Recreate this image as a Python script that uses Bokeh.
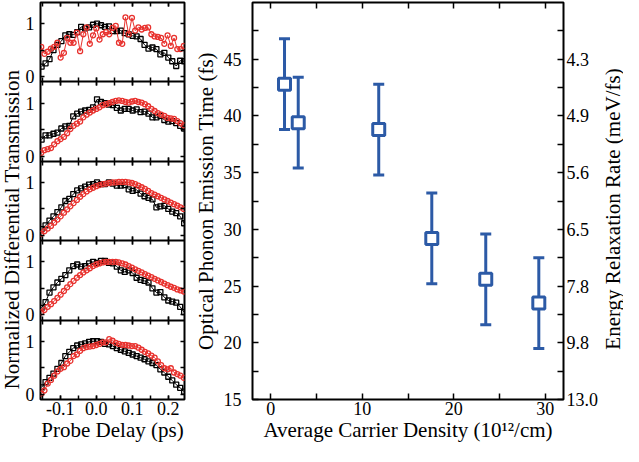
import math
from bokeh.plotting import figure
from bokeh.layouts import row
from bokeh.models import (Range1d, LinearAxis, SingleIntervalTicker, FixedTicker,
                          NumeralTickFormatter, Label, ColumnDataSource, Whisker, TeeHead)
from bokeh.embed import file_html
from bokeh.resources import INLINE

# ---------------- data ----------------
black_delay = [-0.152, -0.141, -0.130, -0.119, -0.108, -0.097, -0.086, -0.075, -0.064, -0.053,
               -0.042, -0.031, -0.020, -0.009, 0.002, 0.013, 0.024, 0.035, 0.046, 0.057,
               0.068, 0.079, 0.090, 0.101, 0.112, 0.123, 0.134, 0.145, 0.156, 0.167,
               0.178, 0.189, 0.200, 0.211, 0.222, 0.233, 0.244]
red_delay = [-0.153, -0.144, -0.135, -0.126, -0.117, -0.108, -0.099, -0.090, -0.081, -0.072,
             -0.063, -0.054, -0.045, -0.036, -0.027, -0.018, -0.009, 0.000, 0.009, 0.018,
             0.027, 0.036, 0.045, 0.054, 0.063, 0.072, 0.081, 0.090, 0.099, 0.108,
             0.117, 0.126, 0.135, 0.144, 0.153, 0.162, 0.171, 0.180, 0.189, 0.198,
             0.207, 0.216, 0.225, 0.234, 0.243]

black_1 = [.19, .25, .33, .50, .60, .67, .78, .80, .79, .84, .94, .91, .93, .98, 1.00, .97, .94, .95, .86, .86,
           .87, .82, .80, .77, .76, .71, .60, .53, .55, .52, .42, .45, .36, .29, .20, .30, .29]
red_1 = [.56, .43, .47, .53, .56, .64, .36, .45, .73, .64, .64, .83, .48, .80, .93, .62, .78, .91, .70, .80,
         .84, .80, .92, .96, .64, .62, 1.12, .80, 1.11, .87, .93, .89, .92, .93, .80, .76, .75, .73, .62, .78,
         .58, .73, .52, .52, .58]
black_2 = [.31, .39, .39, .42, .44, .52, .56, .57, .75, .80, .84, .86, .87, .92, 1.07, 1.02, 1.00, .97, .96, .91,
           .86, .89, .89, .86, .88, .83, .84, .80, .73, .73, .76, .68, .65, .66, .62, .57, .52]
red_2 = [.06, .11, .13, .15, .22, .28, .32, .36, .43, .51, .57, .61, .65, .73, .78, .82, .86, .89, .92, .96,
         .98, 1.00, 1.02, 1.04, 1.05, 1.04, 1.02, 1.01, 1.03, 1.04, 1.02, 1.01, .98, .94, .89, .85, .81, .78, .76, .72,
         .71, .70, .66, .62, .58]
black_3 = [.12, .19, .28, .36, .44, .53, .65, .69, .78, .85, .89, .92, .96, .97, 1.00, .97, .97, 1.00, .98, .94,
           .94, .95, .87, .84, .86, .79, .74, .71, .68, .53, .55, .56, .50, .45, .42, .36, .23]
red_3 = [.03, .08, .13, .18, .24, .30, .36, .43, .49, .55, .61, .67, .73, .78, .83, .87, .90, .93, .95, .97,
         .98, .99, 1.00, 1.00, 1.01, 1.01, 1.01, 1.00, .99, .97, .94, .91, .88, .84, .80, .77, .74, .71, .68, .65,
         .62, .59, .56, .53, .50]
black_4 = [.13, .24, .42, .52, .61, .68, .75, .84, .92, .95, .91, .92, .97, 1.00, .98, 1.02, 1.02, .98, .97, .91,
           .84, .81, .84, .79, .70, .66, .64, .61, .50, .42, .43, .33, .27, .25, .23, .15, .05]
red_4 = [.05, .09, .15, .20, .26, .32, .38, .45, .52, .58, .64, .70, .75, .80, .84, .88, .92, .95, .97, .99,
         1.00, 1.00, 1.00, 1.00, .99, .97, .95, .92, .89, .86, .83, .80, .77, .74, .71, .68, .65, .62, .59, .56,
         .53, .51, .48, .46, .44]
black_5 = [.13, .23, .31, .39, .48, .59, .72, .80, .87, .92, .94, .96, .99, 1.00, 1.00, .99, .95, .94, .91, .87,
           .84, .81, .78, .75, .72, .69, .66, .62, .59, .55, .47, .41, .33, .26, .18, .12, .05]
red_5 = [.01, .07, .20, .27, .35, .43, .48, .51, .58, .63, .72, .75, .82, .87, .89, .90, .91, .93, .95, .98,
         .98, 1.04, 1.01, .97, .95, .93, .93, .92, .91, .91, .88, .84, .80, .77, .73, .69, .62, .55, .49, .47,
         .49, .41, .38, .35, .31]

norm_ticks = [0, 1]
norm_labels = ["0", "1"]
norm_minor = [0.5]

density = [1.5, 3.0, 11.8, 17.6, 23.5, 29.3]           # 10^12 / cm
emission_time = [42.8, 39.4, 38.8, 29.2, 25.6, 23.5]   # fs
time_err = [4.0, 4.0, 4.0, 4.0, 4.0, 4.0]

time_ticks = [15, 20, 25, 30, 35, 40, 45]
time_minor = [17.5, 22.5, 27.5, 32.5, 37.5, 42.5, 47.5]
energy_labels = ["13.0", "9.8", "7.8", "6.5", "5.6", "4.9", "4.3"]
density_ticks = [0, 10, 20, 30]
density_minor = [5, 15, 25]

# ---------------- style / layout ----------------
FONT = "Liberation Serif"
RED = "#e8322e"
BLUE = "#2c5aa6"
TICK_FS = "18px"
LABEL_FS = "21px"
PAGE_H = 446
TOP_B = 2          # border above frames
BOT_B = 47         # border below frames (tick labels + axis label)
LAB_W = 22         # width of each vertical-title strip
COL_W = 168        # width of the left (stacked panels) figure
RIGHT_W = 411
R_LEFT, R_RIGHT = 58, 35


def style_axis(ax, tick_len, standoff):
    ax.major_tick_in = tick_len
    ax.major_tick_out = 0
    ax.minor_tick_in = tick_len
    ax.minor_tick_out = 0
    ax.major_tick_line_width = 1.5
    ax.minor_tick_line_width = 1.5
    ax.major_tick_line_color = "black"
    ax.minor_tick_line_color = "black"
    ax.axis_line_color = None
    ax.major_label_standoff = standoff
    ax.major_label_text_font = FONT
    ax.major_label_text_font_size = TICK_FS
    ax.major_label_text_color = "black"
    ax.major_label_text_line_height = 1.0
    ax.axis_label_text_font = FONT
    ax.axis_label_text_font_size = LABEL_FS
    ax.axis_label_text_font_style = "normal"
    ax.axis_label_text_color = "black"
    ax.axis_label_text_line_height = 1.0
    ax.axis_label_standoff = 0


def hidden_axis(ticker, loc, tick_len=4, **kw):
    ax = LinearAxis(ticker=ticker, fixed_location=loc, **kw)
    style_axis(ax, tick_len, 0)
    ax.major_label_text_color = None
    return ax


def strip(text, center_from_top):
    s = figure(width=LAB_W, height=PAGE_H, x_range=Range1d(0, 1), y_range=Range1d(0, 1),
               min_border_left=0, min_border_right=0, min_border_top=TOP_B, min_border_bottom=BOT_B,
               x_axis_location=None, y_axis_location=None, output_backend="svg", toolbar_location=None)
    s.grid.grid_line_color = None
    s.outline_line_color = None
    # screen units are measured from the frame's bottom-left corner
    s.add_layout(Label(x=LAB_W / 2, y=(PAGE_H - BOT_B) - center_from_top, x_units="screen", y_units="screen",
                       text=text, angle=math.pi / 2, text_align="center", text_baseline="middle",
                       text_font=FONT, text_font_size=LABEL_FS, text_color="black"))
    return s


# ---------------- left: five stacked panels in one figure ----------------
X0, X1 = -0.155, 0.245
Y0, Y1 = -0.1, 1.4
SPAN = 1.5
series = [(black_1, red_1), (black_2, red_2), (black_3, red_3), (black_4, red_4), (black_5, red_5)]
NB = len(series)

pleft = figure(width=COL_W, height=PAGE_H, x_range=Range1d(X0, X1),
               y_range=Range1d(Y0 - (NB - 1) * SPAN, Y1),
               min_border_left=16, min_border_right=6, min_border_top=TOP_B, min_border_bottom=BOT_B,
               x_axis_location=None, y_axis_location=None, output_backend="svg", toolbar_location=None)
pleft.grid.grid_line_color = None
pleft.outline_line_color = "black"
pleft.outline_line_width = 2
pleft.extra_y_ranges = {f"band{k}": Range1d(Y0 - (NB - 1 - k) * SPAN, Y1 + k * SPAN) for k in range(NB)}

left_major, left_minor, left_over = [], [], {}
for k in range(NB):
    for v, lab in zip(norm_ticks, norm_labels):
        t = v - k * SPAN
        left_major.append(t)
        left_over[t] = lab
    for v in norm_minor:
        left_minor.append(v - k * SPAN)

yl = LinearAxis(ticker=FixedTicker(ticks=left_major, minor_ticks=left_minor))
style_axis(yl, 4, 6)
yl.major_label_overrides = left_over
pleft.add_layout(yl, "left")
pleft.add_layout(hidden_axis(FixedTicker(ticks=left_major, minor_ticks=left_minor), X1), "right")


def delay_ticker():
    return SingleIntervalTicker(interval=0.1, num_minor_ticks=2)


pleft.add_layout(hidden_axis(delay_ticker(), Y1), "above")
for k in range(NB - 1):
    edge = Y0 - k * SPAN          # boundary between panel k and k+1
    sep = hidden_axis(delay_ticker(), edge)
    sep.axis_line_color = "black"
    sep.axis_line_width = 2
    pleft.add_layout(sep, "below")
    pleft.add_layout(hidden_axis(delay_ticker(), edge), "above")

xb = LinearAxis(ticker=delay_ticker(), formatter=NumeralTickFormatter(format="0.0"),
                axis_label="Probe Delay (ps)")
style_axis(xb, 4, 2)
pleft.add_layout(xb, "below")

for k, (bk, rd) in enumerate(series):
    rn = f"band{k}"
    pleft.line(black_delay, bk, line_color="black", line_width=1, y_range_name=rn)
    pleft.scatter(black_delay, bk, marker="square", size=5, line_color="black", line_width=1.3,
                  fill_color=None, y_range_name=rn)
    pleft.line(red_delay, rd, line_color=RED, line_width=1, y_range_name=rn)
    pleft.scatter(red_delay, rd, marker="circle", size=5, line_color=RED, line_width=1.3,
                  fill_color=None, y_range_name=rn)

# ---------------- right figure ----------------
pr = figure(width=RIGHT_W, height=PAGE_H, x_range=Range1d(-2, 32), y_range=Range1d(15, 50),
            min_border_left=R_LEFT, min_border_right=R_RIGHT, min_border_top=TOP_B, min_border_bottom=BOT_B,
            x_axis_location=None, y_axis_location=None, output_backend="svg", toolbar_location=None)
pr.grid.grid_line_color = None
pr.outline_line_color = "black"
pr.outline_line_width = 2

ya = LinearAxis(ticker=FixedTicker(ticks=time_ticks, minor_ticks=time_minor),
                axis_label="Optical Phonon Emission Time (fs)")
style_axis(ya, 6, 11)
ya.axis_label_standoff = 3
pr.add_layout(ya, "left")

yb = LinearAxis(ticker=FixedTicker(ticks=time_ticks, minor_ticks=time_minor))
style_axis(yb, 6, 3)
yb.major_label_overrides = {t: lab for t, lab in zip(time_ticks, energy_labels)}
pr.add_layout(yb, "right")

xa = LinearAxis(ticker=FixedTicker(ticks=density_ticks, minor_ticks=density_minor),
                axis_label="Average Carrier Density (10\u00b9\u00b2/cm)")
style_axis(xa, 6, 2)
pr.add_layout(xa, "below")
pr.add_layout(hidden_axis(FixedTicker(ticks=density_ticks, minor_ticks=density_minor), 50, 6), "above")

src = ColumnDataSource(dict(
    x=density, y=emission_time,
    upper=[t + e for t, e in zip(emission_time, time_err)],
    lower=[t - e for t, e in zip(emission_time, time_err)],
))
wh = Whisker(source=src, base="x", upper="upper", lower="lower", line_color=BLUE, line_width=3,
             upper_head=TeeHead(size=11, line_color=BLUE, line_width=3),
             lower_head=TeeHead(size=11, line_color=BLUE, line_width=3))
pr.add_layout(wh)
pr.scatter("x", "y", source=src, marker="square", size=12, line_color=BLUE, line_width=3,
           fill_color="white")

left_title = strip("Normalized Differential Transmission", 229)
right_title = strip("Energy Relaxation Rate (meV/fs)", 208.5)

layout = row(left_title, pleft, pr, right_title, spacing=0)

with open("out.html", "w") as f:
    f.write(file_html(layout, INLINE))
